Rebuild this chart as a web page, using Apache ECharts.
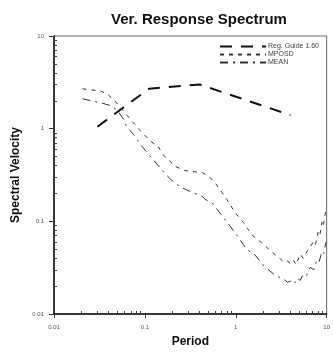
<!DOCTYPE html>
<html>
<head>
<meta charset="utf-8">
<script src="https://cdn.jsdelivr.net/npm/echarts@6/dist/echarts.min.js"></script>
<style>html,body{margin:0;padding:0;background:#fff}#c{width:333px;height:353px}</style>
</head>
<body>
<div id="c"></div>
<script>
const titleText = 'Ver. Response Spectrum';
const xName = 'Period';
const yName = 'Spectral Velocity';
const seriesNames = ['Reg. Guide 1.60', 'MPOSD', 'MEAN'];
const xMajorTicks = [0.01, 0.1, 1, 10];
const yMajorTicks = [0.01, 0.1, 1, 10];
const minorTicks = [0.02,0.03,0.04,0.05,0.06,0.07,0.08,0.09,0.2,0.3,0.4,0.5,0.6,0.7,0.8,0.9,2,3,4,5,6,7,8,9];

const regGuide = [[0.03,1.05],[0.111,2.7],[0.4,3.0],[4.0,1.4]];

const mposd = [[0.0206,2.69],[0.0257,2.62],[0.0322,2.56],[0.0383,2.38],[0.0456,2.05],[0.0542,1.68],
  [0.0713,1.22],[0.0891,0.95],[0.117,0.725],[0.140,0.640],[0.158,0.525],[0.218,0.390],[0.273,0.353],
  [0.333,0.345],[0.428,0.336],[0.521,0.297],[0.590,0.262],[0.703,0.205],[0.796,0.173],[0.902,0.142],
  [1.02,0.119],[1.21,0.0975],[1.34,0.0841],[1.56,0.069],[1.90,0.0594],[2.44,0.0475],[3.12,0.039],
  [3.4,0.036],[3.72,0.0372],[4.0,0.035],[4.32,0.038],[4.6,0.034],[5.14,0.0442],[5.5,0.040],
  [6.11,0.0475],[6.5,0.052],[7.1,0.0594],[7.5,0.055],[8.04,0.0762],[8.4,0.070],[8.87,0.0975],
  [9.2,0.088],[9.6,0.12],[9.9,0.13]];

const mean = [[0.0206,2.10],[0.0257,2.0],[0.0329,1.90],[0.0423,1.77],[0.0491,1.60],[0.0570,1.31],
  [0.0630,1.05],[0.0787,0.82],[0.0914,0.656],[0.123,0.464],[0.170,0.320],[0.193,0.283],[0.241,0.238],
  [0.280,0.221],[0.333,0.205],[0.428,0.186],[0.460,0.173],[0.575,0.152],[0.621,0.135],[0.836,0.0929],
  [1.07,0.0673],[1.31,0.050],[1.60,0.0442],[2.05,0.0328],[2.62,0.0269],[3.0,0.025],[3.37,0.0238],
  [3.7,0.022],[4.01,0.0226],[4.4,0.021],[4.77,0.0244],[5.1,0.023],[5.53,0.0269],[6.0,0.026],
  [6.59,0.032],[7.2,0.030],[7.84,0.039],[8.3,0.037],[8.87,0.0475],[9.3,0.045],[9.6,0.054],[9.9,0.06]];

const chart = echarts.init(document.getElementById('c'), null, {renderer:'canvas'});
const fmt = v => (v >= 1 ? String(Math.round(v)) : String(+v.toPrecision(1)));
const grid = {left:54, right:2, top:36, bottom:38, show:true, borderColor:'#666', borderWidth:1, backgroundColor:'#fff'};
const baseAxis = {type:'log', logBase:10, min:0.01, max:10};
chart.setOption({
  animation:false,
  title:{text:titleText, left:194, top:7, textAlign:'center',
    textStyle:{fontFamily:'Liberation Sans, Arial', fontSize:15, fontWeight:'bold', color:'#111'}},
  legend:{data:seriesNames, orient:'vertical', right:9, top:38, itemGap:1, itemWidth:46, itemHeight:7,
    itemStyle:{opacity:0},
    textStyle:{fontFamily:'Liberation Sans, Arial', fontSize:7, color:'#444', padding:[0,0,0,-3]}},
  grid:grid,
  xAxis:[
    Object.assign({}, baseAxis, {name:xName, nameLocation:'middle', nameGap:22,
      nameTextStyle:{fontFamily:'Liberation Sans, Arial', fontSize:12, fontWeight:'bold', color:'#111'},
      axisLine:{show:true, lineStyle:{color:'#111', width:1.5}},
      axisTick:{show:true, inside:false, length:4, customValues:xMajorTicks, lineStyle:{color:'#333'}},
      axisLabel:{customValues:xMajorTicks, formatter:fmt, fontSize:6, color:'#555', margin:10,
        fontFamily:'Liberation Sans, Arial'},
      splitLine:{show:false}, minorTick:{show:false}}),
    Object.assign({}, baseAxis, {position:'bottom', axisLine:{show:false},
      axisTick:{show:true, inside:true, length:3, customValues:minorTicks, lineStyle:{color:'#444'}},
      axisLabel:{show:false}, splitLine:{show:false}})
  ],
  yAxis:[
    Object.assign({}, baseAxis, {name:yName, nameLocation:'middle', nameGap:32,
      nameTextStyle:{fontFamily:'Liberation Sans, Arial', fontSize:12, fontWeight:'bold', color:'#111'},
      axisLine:{show:true, lineStyle:{color:'#111', width:1.5}},
      axisTick:{show:true, inside:false, length:5, customValues:yMajorTicks, lineStyle:{color:'#333'}},
      axisLabel:{customValues:yMajorTicks, formatter:fmt, fontSize:6, color:'#555', margin:10,
        fontFamily:'Liberation Sans, Arial'},
      splitLine:{show:false}, minorTick:{show:false}}),
    Object.assign({}, baseAxis, {position:'left', axisLine:{show:false},
      axisTick:{show:true, inside:true, length:3, customValues:minorTicks, lineStyle:{color:'#444'}},
      axisLabel:{show:false}, splitLine:{show:false}})
  ],
  series:[
    {name:seriesNames[0], type:'line', data:regGuide, showSymbol:false, symbol:'none',
      lineStyle:{color:'#111', width:2, type:[12,9]}, color:'#111'},
    {name:seriesNames[1], type:'line', data:mposd, showSymbol:false, symbol:'none',
      lineStyle:{color:'#333', width:1, type:[4,5]}, color:'#333'},
    {name:seriesNames[2], type:'line', data:mean, showSymbol:false, symbol:'none',
      lineStyle:{color:'#333', width:1, type:[8,5,2,5]}, color:'#333'}
  ]
});
</script>
</body>
</html>
